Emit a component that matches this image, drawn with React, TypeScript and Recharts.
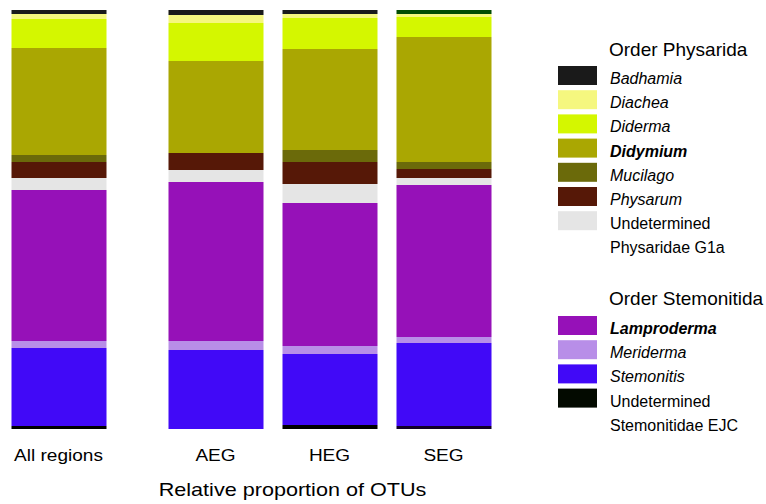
import React from "react";
import { BarChart, Bar, XAxis, YAxis, Cell } from "recharts";

const regions = ["All regions", "AEG", "HEG", "SEG"];
const badhamia = [0.95, 1.19, 0.95, 0.95];
const diachea = [1.19, 1.91, 0.95, 0.72];
const diderma = [6.92, 9.07, 7.4, 4.77];
const didymium = [25.54, 21.96, 24.11, 29.83];
const mucilago = [1.67, 0, 2.86, 1.67];
const physarum = [3.82, 4.06, 5.25, 2.15];
const undPhysaridae = [2.86, 2.86, 4.53, 1.67];
const lamproderma = [36.04, 37.95, 34.13, 36.28];
const meriderma = [1.67, 2.15, 1.91, 1.43];
const stemonitis = [18.62, 18.85, 16.95, 19.81];
const undStemonitidae = [0.72, 0, 0.95, 0.72];

const FONT = "'Liberation Sans', Arial, Helvetica, sans-serif";

// bottom to top stacking order
const series = [
  { key: "undStemonitidae", values: undStemonitidae, color: "#000000", alt: { SEG: "#12002a" } },
  { key: "stemonitis", values: stemonitis, color: "#4109f7" },
  { key: "meriderma", values: meriderma, color: "#b88ee8" },
  { key: "lamproderma", values: lamproderma, color: "#9611b8" },
  { key: "undPhysaridae", values: undPhysaridae, color: "#e5e5e5" },
  { key: "physarum", values: physarum, color: "#561807" },
  { key: "mucilago", values: mucilago, color: "#6b6a0a" },
  { key: "didymium", values: didymium, color: "#aaa702" },
  { key: "diderma", values: diderma, color: "#d4f700" },
  { key: "diachea", values: diachea, color: "#f5f77f" },
  { key: "badhamia", values: badhamia, color: "#1a1a1a", alt: { SEG: "#014d03" } },
];

const rows = regions.map((region, i) => {
  const r: any = { region };
  series.forEach((s) => {
    r[s.key] = s.values[i];
  });
  return r;
});

const physaridaLegend = [
  { label: "Badhamia", color: "#1a1a1a", bold: false, italic: true },
  { label: "Diachea", color: "#f5f77f", bold: false, italic: true },
  { label: "Diderma", color: "#d4f700", bold: false, italic: true },
  { label: "Didymium", color: "#aaa702", bold: true, italic: true },
  { label: "Mucilago", color: "#6b6a0a", bold: false, italic: true },
  { label: "Physarum", color: "#561807", bold: false, italic: true },
  { label: "Undetermined", label2: "Physaridae G1a", color: "#e5e5e5", bold: false, italic: false },
];
const stemonitidaLegend = [
  { label: "Lamproderma", color: "#9611b8", bold: true, italic: true },
  { label: "Meriderma", color: "#b88ee8", bold: false, italic: true },
  { label: "Stemonitis", color: "#4109f7", bold: false, italic: true },
  { label: "Undetermined", label2: "Stemonitidae EJC", color: "#030a00", bold: false, italic: false },
];

const Tick = (props: any) => {
  const { x, y, payload } = props;
  return (
    <text
      transform={`translate(${x},${y + 32}) scale(1.19,1)`}
      textAnchor="middle"
      fontSize={16}
      fontFamily={FONT}
      fill="#000"
    >
      {payload.value}
    </text>
  );
};

const renderBars = (region0: number) =>
  series.map((s) => (
    <Bar
      key={s.key}
      dataKey={s.key}
      stackId="a"
      fill={s.color}
      isAnimationActive={false}
      barSize={95}
    >
      {regions.slice(region0).map((rg) => (
        <Cell key={rg} fill={(s as any).alt && (s as any).alt[rg] ? (s as any).alt[rg] : s.color} />
      ))}
    </Bar>
  ));

const LegendBlock = ({ items, titleY, title, firstTop }: any) => (
  <g fontFamily={FONT}>
    <text x={609} y={titleY} fontSize={19} fill="#000">
      {title}
    </text>
    {items.map((it: any, i: number) => {
      const top = firstTop + i * 24.2;
      return (
        <g key={it.label + i}>
          <rect x={558} y={top} width={39} height={19} fill={it.color} />
          <text
            x={610}
            y={top + 18}
            fontSize={16}
            fontStyle={it.italic ? "italic" : "normal"}
            fontWeight={it.bold ? "bold" : "normal"}
            fill="#000"
          >
            {it.label}
          </text>
          {it.label2 ? (
            <text x={610} y={top + 18 + 24} fontSize={16} fill="#000">
              {it.label2}
            </text>
          ) : null}
        </g>
      );
    })}
  </g>
);

export default function App() {
  return (
    <div style={{ position: "absolute", left: 0, top: 0, width: 766, height: 504, background: "#fff" }}>
      <div style={{ position: "absolute", left: 0, top: 0 }}>
        <BarChart
          width={130}
          height={504}
          data={rows.slice(0, 1)}
          margin={{ top: 10, right: 14.5, bottom: 45, left: 1.5 }}
        >
          <XAxis
            dataKey="region"
            type="category"
            axisLine={false}
            tickLine={false}
            tickSize={0}
            tickMargin={0}
            height={30}
            interval={0}
            tick={<Tick />}
          />
          <YAxis hide domain={[0, 100]} type="number" />
          {renderBars(0)}
        </BarChart>
      </div>
      <div style={{ position: "absolute", left: 0, top: 0 }}>
        <BarChart
          width={520}
          height={504}
          data={rows.slice(1)}
          margin={{ top: 10, right: 19.5, bottom: 45, left: 158.5 }}
        >
          <XAxis
            dataKey="region"
            type="category"
            axisLine={false}
            tickLine={false}
            tickSize={0}
            tickMargin={0}
            height={30}
            interval={0}
            tick={<Tick />}
          />
          <YAxis hide domain={[0, 100]} type="number" />
          {renderBars(1)}
        </BarChart>
      </div>
      <svg
        width={766}
        height={504}
        style={{ position: "absolute", left: 0, top: 0, pointerEvents: "none" }}
      >
        <text
          transform="translate(292.5,496) scale(1.2,1)"
          textAnchor="middle"
          fontSize={18}
          fontFamily={FONT}
          fill="#000"
        >
          Relative proportion of OTUs
        </text>
        <LegendBlock items={physaridaLegend} title="Order Physarida" titleY={56} firstTop={66} />
        <LegendBlock items={stemonitidaLegend} title="Order Stemonitida" titleY={305} firstTop={316} />
      </svg>
    </div>
  );
}
